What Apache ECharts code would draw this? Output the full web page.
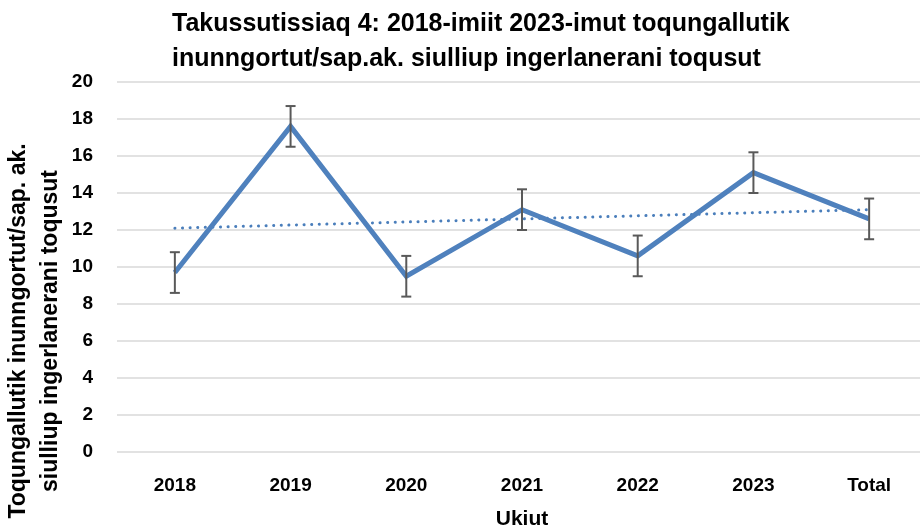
<!DOCTYPE html>
<html>
<head>
<meta charset="utf-8">
<script src="https://cdn.jsdelivr.net/npm/echarts@6/dist/echarts.min.js"></script>
<style>
	html, body { margin: 0; padding: 0; background: #fff; }
	#chart { width: 920px; height: 531px; }
</style>
</head>
<body>
<div id="chart"></div>
<script>
var years = ["2018", "2019", "2020", "2021", "2022", "2023", "Total"];
var values = [9.7, 17.6, 9.5, 13.1, 10.6, 15.1, 12.6];
var errors = [1.1, 1.1, 1.1, 1.1, 1.1, 1.1, 1.1];
var trend = [12.1, null, null, null, null, null, 13.1];
var yTicks = { min: 0, max: 20, interval: 2 };

var font = "'Liberation Sans', Arial, sans-serif";

var chart = echarts.init(document.getElementById("chart"));

var errData = years.map(function (y, i) {
	return [i, values[i] - errors[i], values[i] + errors[i]];
});

chart.setOption({
	animation: false,
	grid: { left: 117, top: 82, width: 810, height: 370, containLabel: false, outerBoundsMode: "none" },
	graphic: [
		{
			type: "text", left: 172, top: 7,
			style: {
				text: "Takussutissiaq 4: 2018-imiit 2023-imut toqungallutik\ninunngortut/sap.ak. siulliup ingerlanerani toqusut",
				font: "bold 25px " + font, fill: "#000", lineHeight: 35
			}
		},
		{
			type: "text", x: 3, y: 331, rotation: Math.PI / 2,
			style: {
				text: "Toqungallutik inunngortut/sap. ak.\nsiulliup ingerlanerani toqusut",
				font: "bold 23px " + font, fill: "#000", lineHeight: 32,
				align: "center", verticalAlign: "top"
			}
		}
	],
	xAxis: {
		type: "category",
		data: years,
		boundaryGap: true,
		axisLine: { show: false },
		axisTick: { show: false },
		axisLabel: { margin: 24, fontFamily: font, fontWeight: "bold", fontSize: 19, color: "#000" },
		name: "Ukiut",
		nameLocation: "middle",
		nameGap: 57,
		nameTextStyle: { fontFamily: font, fontWeight: "bold", fontSize: 21, color: "#000" }
	},
	yAxis: {
		type: "value",
		min: yTicks.min, max: yTicks.max, interval: yTicks.interval,
		axisLine: { show: false },
		axisTick: { show: false },
		axisLabel: { margin: 24, fontFamily: font, fontWeight: "bold", fontSize: 19, color: "#000" },
		splitLine: { lineStyle: { color: "#d9d9d9", width: 1.5 } }
	},
	series: [
		{
			type: "line",
			data: trend,
			connectNulls: true,
			symbol: "none",
			z: 2,
			lineStyle: { color: "#4a7ebb", width: 3, type: [0.1, 7.5], cap: "round" }
		},
		{
			type: "line",
			data: values,
			symbol: "none",
			z: 3,
			lineStyle: { color: "#4f81bd", width: 5, join: "miter" }
		},
		{
			type: "custom",
			data: errData,
			z: 4,
			renderItem: function (params, api) {
				var x = api.coord([api.value(0), api.value(1)])[0];
				var lo = api.coord([api.value(0), api.value(1)])[1];
				var hi = api.coord([api.value(0), api.value(2)])[1];
				var half = 5;
				var st = { stroke: "#595959", lineWidth: 2 };
				return {
					type: "group",
					children: [
						{ type: "line", shape: { x1: x, y1: lo, x2: x, y2: hi }, style: st },
						{ type: "line", shape: { x1: x - half, y1: lo, x2: x + half, y2: lo }, style: st },
						{ type: "line", shape: { x1: x - half, y1: hi, x2: x + half, y2: hi }, style: st }
					]
				};
			}
		}
	]
});
</script>
</body>
</html>
